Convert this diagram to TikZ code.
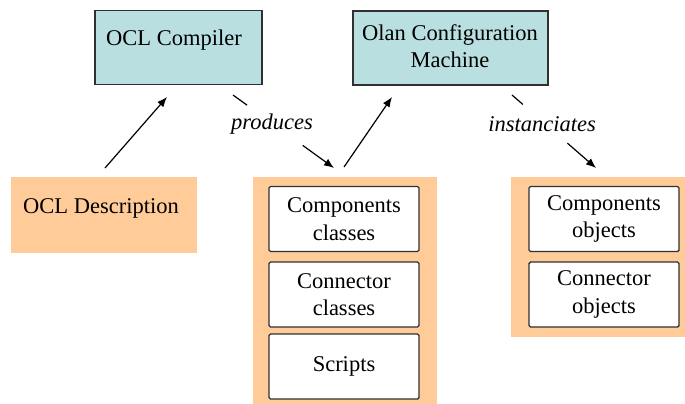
\documentclass[tikz,border=0pt]{standalone}
\usepackage{fontspec}
\setmainfont{Liberation Serif}
\usetikzlibrary{arrows.meta,calc}
\definecolor{peach}{HTML}{FFCC99}
\definecolor{lblue}{HTML}{B9DFE0}
\definecolor{edge}{HTML}{303030}
\begin{document}
\begin{tikzpicture}[x=1pt,y=-1pt,
  font=\fontsize{22.5}{27.5}\selectfont,
  topbox/.style={draw=edge,line width=1.5pt,fill=lblue,minimum width=#1,inner sep=0pt},
  peachbox/.style={fill=peach,draw=none,inner sep=0pt},
  innerbox/.style={draw=edge,line width=1.4pt,fill=white,rounded corners=1.5pt,inner sep=0pt,
    minimum width=150pt,minimum height=65pt,align=center},
  arr/.style={line width=1.2pt,-{Latex[length=10pt,width=8pt]}},
  plain/.style={line width=1.2pt}]
\useasboundingbox (0,0) rectangle (685,404);
% top boxes
\node[topbox=167pt,minimum height=74pt] (cmp) at (178.5,47.5) {};
\node (cmptxt) at (174,40) {OCL Compiler};
\node[topbox=195pt,minimum height=74pt] (olan) at (450.5,48) {};
\node[align=center] (olantxt) at (450,46) {Olan Configuration\\Machine};
% OCL description
\node[peachbox,minimum width=186pt,minimum height=76pt] (desc) at (104,215) {};
\node (desctxt) at (101,208) {OCL Description};
% middle group
\node[peachbox,minimum width=184pt,minimum height=228pt] (mid) at (345,291) {};
\node[innerbox] (cc) at (344,219) {Components\\classes};
\node[innerbox] (kc) at (344,294.5) {Connector\\classes};
\node[innerbox] (sc) at (344,366.5) {Scripts};
% right group
\node[peachbox,minimum width=176pt,minimum height=160pt] (right) at (599,257) {};
\node[innerbox] (co) at (604,219) {Components\\objects};
\node[innerbox] (ko) at (604,294.5) {Connector\\objects};
% connectors
\coordinate (d1) at (105,168);
\coordinate (d2) at (167,97);
\draw[arr] (d1) -- (d2);
\coordinate (p1) at (233,95);
\coordinate (p2) at (334,168);
\draw[plain] (p1) -- ($(p1)!0.14!(p2)$);
\draw[arr] ($(p1)!0.69!(p2)$) -- (p2);
\node[font=\fontsize{22.5}{27.5}\selectfont\itshape] (prod) at (272,124) {produces};
\coordinate (m1) at (344,167);
\coordinate (m2) at (392,97);
\draw[arr] (m1) -- (m2);
\coordinate (i1) at (512,95);
\coordinate (i2) at (596,168);
\draw[plain] (i1) -- ($(i1)!0.13!(i2)$);
\draw[arr] ($(i1)!0.66!(i2)$) -- (i2);
\node[font=\fontsize{22.5}{27.5}\selectfont\itshape] (inst) at (542,124) {instanciates};
\end{tikzpicture}
\end{document}
